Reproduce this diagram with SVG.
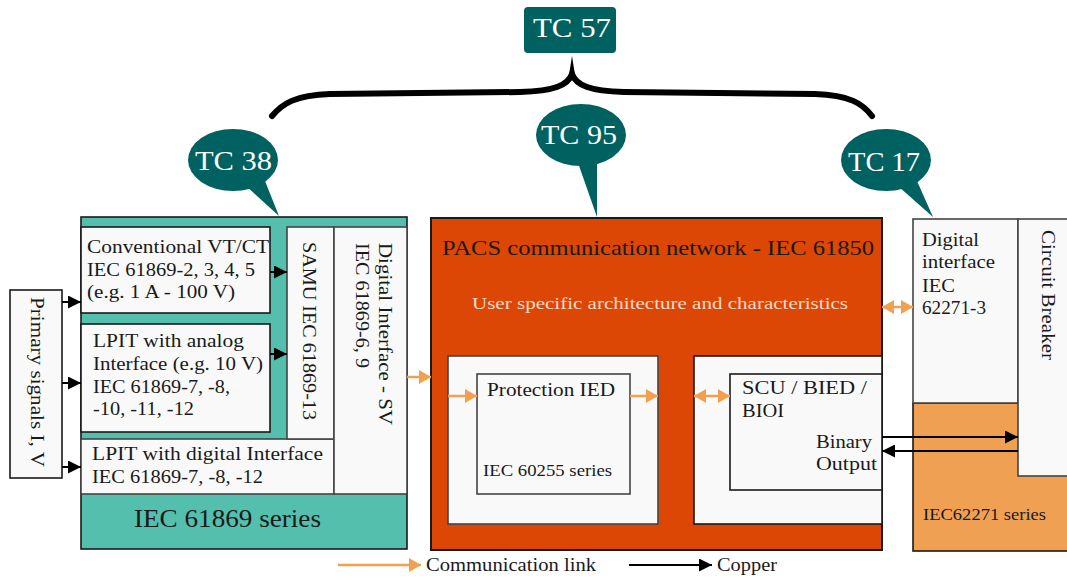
<svg xmlns="http://www.w3.org/2000/svg" width="1067" height="578" viewBox="0 0 1067 578">
<style>
text{font-family:"Liberation Serif","DejaVu Serif",serif;fill:#1a1a1a;}
.box{fill:#f9f9f9;stroke:#1a1a1a;stroke-width:1.6;}
.gbox{fill:#f9f9f9;stroke:#444;stroke-width:1.6;}
.tc{fill:#006260;}
.tct{fill:#ffffff;font-size:28px;}
.t19{font-size:19px;}
.blk{stroke:#000;stroke-width:2;fill:none;}
.org{stroke:#f0a050;stroke-width:2.5;fill:none;}
</style>
<defs>
<marker id="ab" markerUnits="userSpaceOnUse" markerWidth="13" markerHeight="13" refX="13" refY="6.5" orient="auto"><path d="M0,0 L13,6.5 L0,13 z" fill="#000"/></marker>
<marker id="ao" markerUnits="userSpaceOnUse" markerWidth="12" markerHeight="14" refX="12" refY="7" orient="auto"><path d="M0,0 L12,7 L0,14 z" fill="#f0a050"/></marker>
<marker id="aos" markerUnits="userSpaceOnUse" markerWidth="12" markerHeight="14" refX="0" refY="7" orient="auto"><path d="M12,0 L0,7 L12,14 z" fill="#f0a050"/></marker>
</defs>

<g id="tc57">
<rect x="524" y="7" width="92" height="46" rx="4" class="tc"/>
<text x="533" y="37" class="tct" textLength="78" lengthAdjust="spacingAndGlyphs">TC 57</text>
</g>
<g id="brace">
<path d="M272,116 C282,104 295,95 330,94 L520,92 C555,91 568,85 572,74 C576,85 589,91 624,92 L815,94 C850,95 863,104 872,116" fill="none" stroke="#000" stroke-width="6" stroke-linecap="round"/>
<path d="M568.5,78 L572,56 L575.5,78 Z" fill="#000"/>
</g>
<g id="tc38">
<polygon points="246,186 265,181 279,216" class="tc"/>
<ellipse cx="233" cy="160" rx="45" ry="31" class="tc"/>
<text x="195" y="170" class="tct" textLength="77" lengthAdjust="spacingAndGlyphs">TC 38</text>
</g>
<g id="tc95">
<polygon points="577,160 597,160 597,217" class="tc"/>
<ellipse cx="581" cy="135" rx="45" ry="31" class="tc"/>
<text x="541" y="144" class="tct" textLength="76" lengthAdjust="spacingAndGlyphs">TC 95</text>
</g>
<g id="tc17">
<polygon points="898,186 917,181 933,217" class="tc"/>
<ellipse cx="886" cy="160" rx="45" ry="31" class="tc"/>
<text x="848" y="171" class="tct" textLength="72" lengthAdjust="spacingAndGlyphs">TC 17</text>
</g>

<g id="primary">
<rect x="10" y="290" width="52" height="188" class="box"/>
<text transform="translate(31,297) rotate(90)" class="t19" textLength="170" lengthAdjust="spacingAndGlyphs">Primary signals I, V</text>
</g>

<g id="iec61869">
<rect x="81" y="217" width="326" height="332" fill="#54bfad" stroke="#1a1a1a" stroke-width="1.6"/>
<text x="134" y="527" style="font-size:25px" textLength="187" lengthAdjust="spacingAndGlyphs">IEC 61869 series</text>
</g>
<g id="conventional">
<rect x="81" y="227" width="189" height="86" class="box" stroke-width="2"/>
<text x="87" y="253" class="t19" textLength="182" lengthAdjust="spacingAndGlyphs">Conventional VT/CT</text>
<text x="87" y="276" class="t19" textLength="168" lengthAdjust="spacingAndGlyphs">IEC 61869-2, 3, 4, 5</text>
<text x="87" y="298" class="t19" textLength="148" lengthAdjust="spacingAndGlyphs">(e.g. 1 A - 100 V)</text>
</g>
<g id="lpit-analog">
<rect x="81" y="324" width="189" height="108" class="box" stroke-width="2"/>
<text x="93" y="347" class="t19" textLength="151" lengthAdjust="spacingAndGlyphs">LPIT with analog</text>
<text x="93" y="370" class="t19" textLength="170" lengthAdjust="spacingAndGlyphs">Interface (e.g. 10 V)</text>
<text x="93" y="393" class="t19" textLength="137" lengthAdjust="spacingAndGlyphs">IEC 61869-7, -8,</text>
<text x="93" y="415" class="t19" textLength="101" lengthAdjust="spacingAndGlyphs">-10, -11, -12</text>
</g>
<g id="lpit-digital">
<rect x="81" y="439" width="253" height="55" class="gbox"/>
<text x="92" y="460" class="t19" textLength="231" lengthAdjust="spacingAndGlyphs">LPIT with digital Interface</text>
<text x="92" y="483" class="t19" textLength="171" lengthAdjust="spacingAndGlyphs">IEC 61869-7, -8, -12</text>
</g>
<g id="samu">
<rect x="287" y="227" width="47" height="212" class="gbox"/>
<text transform="translate(303,242) rotate(90)" class="t19" textLength="178" lengthAdjust="spacingAndGlyphs">SAMU IEC 61869-13</text>
</g>
<g id="digital-sv">
<rect x="334" y="227" width="73" height="267" class="gbox"/>
<text transform="translate(379,243) rotate(90)" class="t19" textLength="182" lengthAdjust="spacingAndGlyphs">Digital Interface - SV</text>
<text transform="translate(356,243) rotate(90)" class="t19" textLength="125" lengthAdjust="spacingAndGlyphs">IEC 61869-6, 9</text>
</g>

<g id="pacs">
<rect x="431" y="218" width="451" height="332" fill="#dd4705" stroke="#1a1a1a" stroke-width="2"/>
<text x="442" y="255" style="font-size:21px" textLength="432" lengthAdjust="spacingAndGlyphs">PACS communication network - IEC 61850</text>
<text x="472" y="309" style="font-size:17px;fill:#f8dccb" textLength="376" lengthAdjust="spacingAndGlyphs">User specific architecture and characteristics</text>
</g>
<g id="prot-container">
<rect x="448" y="356" width="210" height="168" class="gbox"/>
</g>
<g id="protection-ied">
<rect x="477" y="374" width="153" height="120" class="gbox"/>
<text x="487" y="396" class="t19" textLength="128" lengthAdjust="spacingAndGlyphs">Protection IED</text>
<text x="483" y="476" style="font-size:17px" textLength="129" lengthAdjust="spacingAndGlyphs">IEC 60255 series</text>
</g>
<g id="scu-container">
<rect x="694" y="356" width="188" height="168" class="box"/>
</g>
<g id="scu">
<rect x="730" y="374" width="152" height="116" class="box"/>
<text x="742" y="394" class="t19" textLength="125" lengthAdjust="spacingAndGlyphs">SCU / BIED /</text>
<text x="742" y="417" class="t19" textLength="42" lengthAdjust="spacingAndGlyphs">BIOI</text>
<text x="816" y="448" class="t19" textLength="56" lengthAdjust="spacingAndGlyphs">Binary</text>
<text x="816" y="470" class="t19" textLength="61" lengthAdjust="spacingAndGlyphs">Output</text>
</g>

<g id="iec62271">
<rect x="913" y="403" width="160" height="148" fill="#f0a052" stroke="#1a1a1a" stroke-width="1.6"/>
<text x="923" y="520" style="font-size:17px" textLength="123" lengthAdjust="spacingAndGlyphs">IEC62271 series</text>
</g>
<g id="digital-interface">
<rect x="913" y="219" width="105" height="184" class="gbox"/>
<text x="922" y="246" class="t19" textLength="57" lengthAdjust="spacingAndGlyphs">Digital</text>
<text x="922" y="268" class="t19" textLength="73" lengthAdjust="spacingAndGlyphs">interface</text>
<text x="922" y="292" class="t19" textLength="33" lengthAdjust="spacingAndGlyphs">IEC</text>
<text x="922" y="314" class="t19" textLength="64" lengthAdjust="spacingAndGlyphs">62271-3</text>
</g>
<g id="circuit-breaker">
<rect x="1018" y="219" width="60" height="257" class="gbox"/>
<text transform="translate(1042,230) rotate(90)" class="t19" textLength="130" lengthAdjust="spacingAndGlyphs">Circuit Breaker</text>
</g>

<g id="connectors">
<line x1="62" y1="302" x2="81" y2="302" class="blk" marker-end="url(#ab)"/>
<line x1="62" y1="383" x2="81" y2="383" class="blk" marker-end="url(#ab)"/>
<line x1="62" y1="467" x2="81" y2="467" class="blk" marker-end="url(#ab)"/>
<line x1="270" y1="272" x2="287" y2="272" class="blk" marker-end="url(#ab)"/>
<line x1="270" y1="354" x2="287" y2="354" class="blk" marker-end="url(#ab)"/>
<line x1="407" y1="377" x2="431" y2="377" class="org" marker-end="url(#ao)"/>
<line x1="448" y1="396" x2="477" y2="396" class="org" marker-end="url(#ao)"/>
<line x1="630" y1="396" x2="658" y2="396" class="org" marker-end="url(#ao)"/>
<line x1="694" y1="396" x2="730" y2="396" class="org" marker-start="url(#aos)" marker-end="url(#ao)"/>
<line x1="882" y1="307" x2="913" y2="307" class="org" marker-start="url(#aos)" marker-end="url(#ao)"/>
<line x1="882" y1="437" x2="1018" y2="437" class="blk" marker-end="url(#ab)"/>
<line x1="1018" y1="451" x2="882" y2="451" class="blk" marker-end="url(#ab)"/>
</g>

<g id="legend">
<line x1="338" y1="565" x2="421" y2="565" class="org" marker-end="url(#ao)"/>
<text x="426" y="571" class="t19" textLength="170" lengthAdjust="spacingAndGlyphs">Communication link</text>
<line x1="629" y1="565" x2="712" y2="565" class="blk" marker-end="url(#ab)"/>
<text x="717" y="571" class="t19" textLength="60" lengthAdjust="spacingAndGlyphs">Copper</text>
</g>
</svg>
